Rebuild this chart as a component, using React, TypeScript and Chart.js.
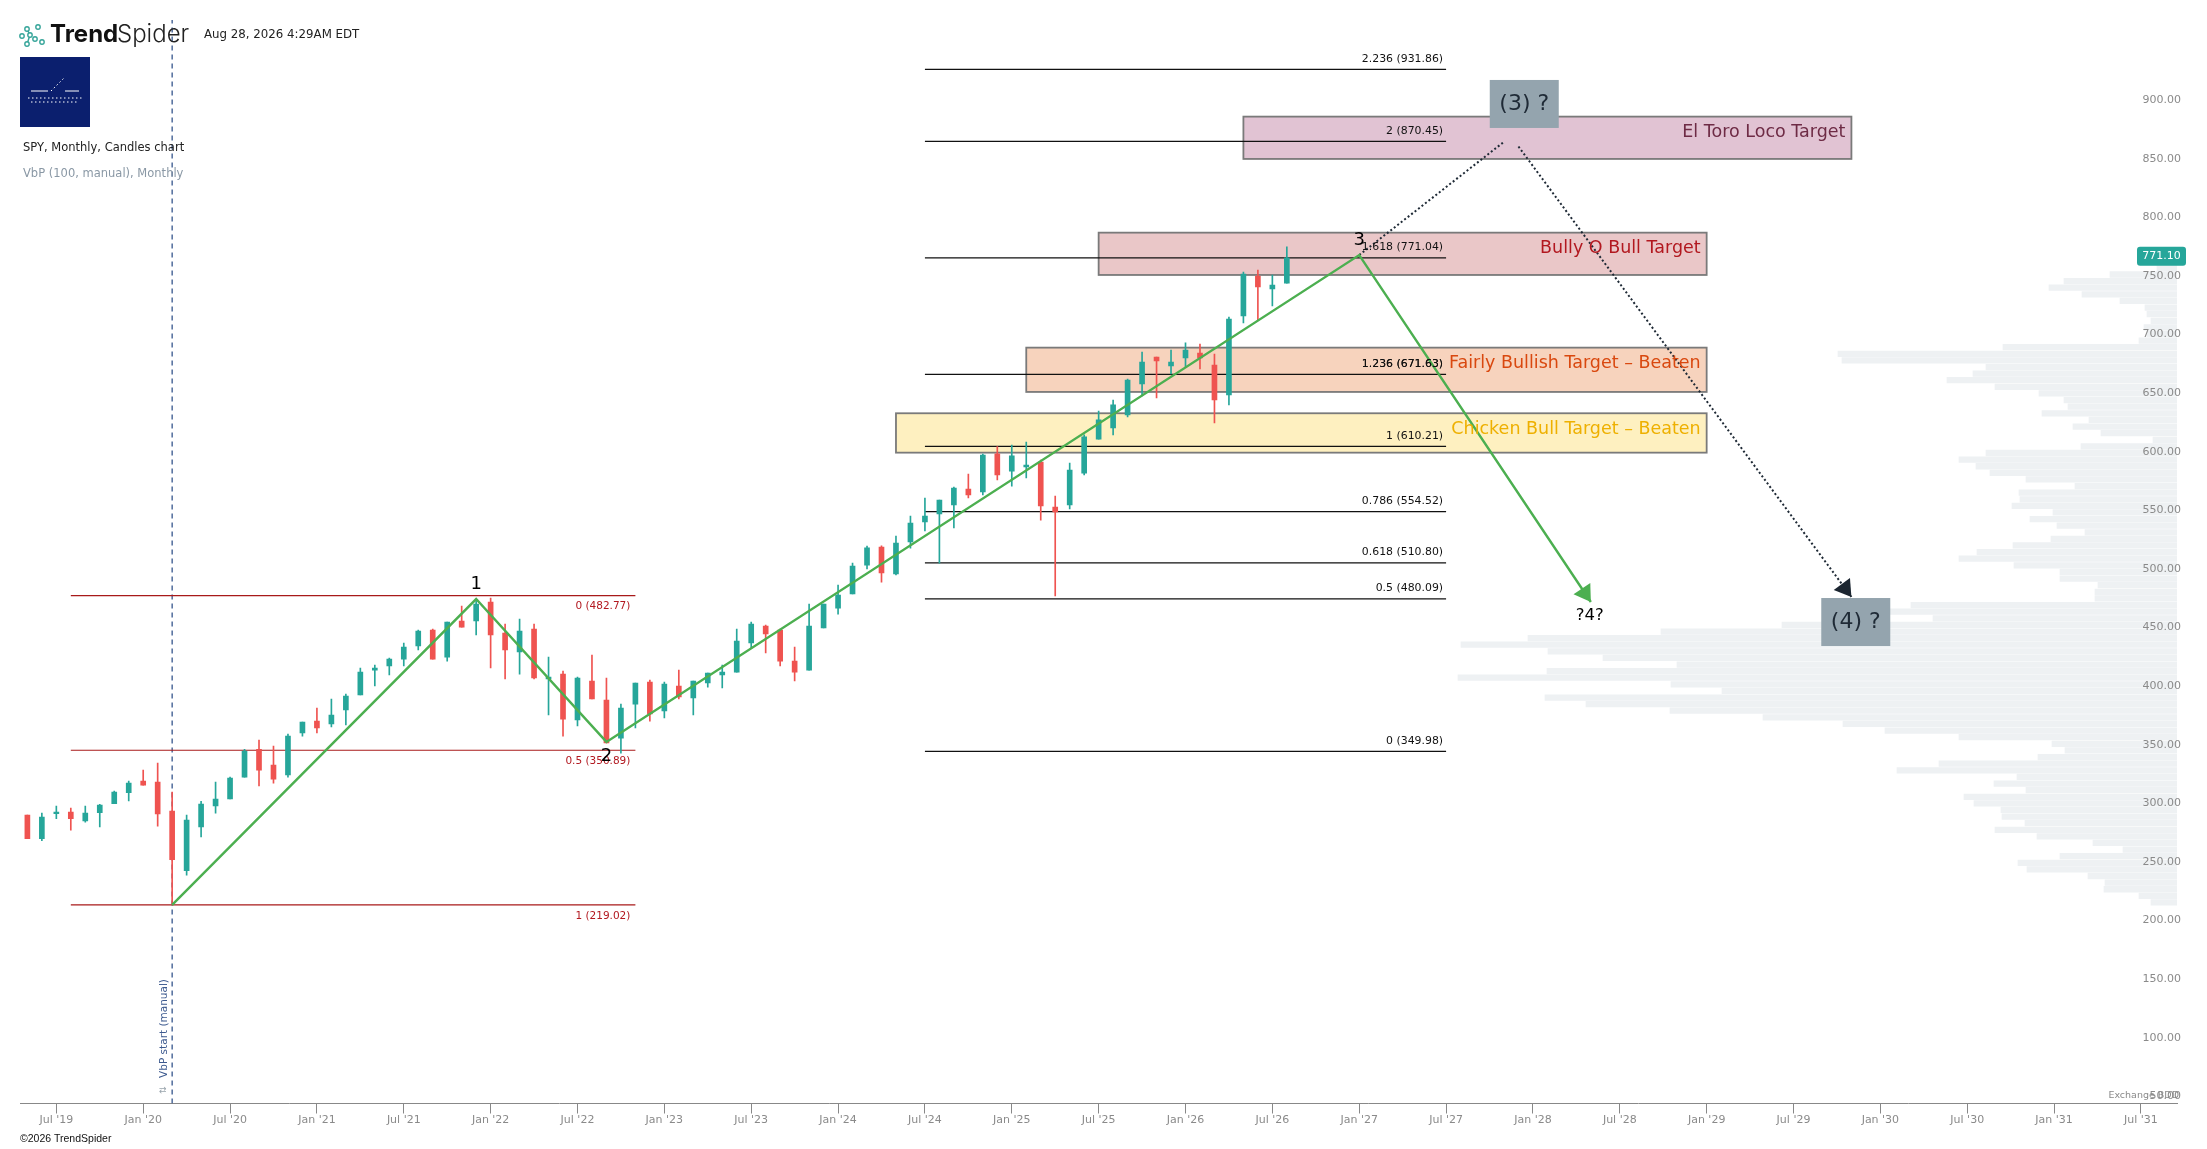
import React, { useEffect, useRef } from "react";
import { Chart, registerables } from "chart.js";

Chart.register(...registerables);

// Month index: 0 = Jan 2019
const firstCandleMonth = 4;
const opens = [295.6,275.4,296.8,298.2,290.5,297.6,305.3,314.7,324.6,323.8,299.0,248.1,285.4,303.3,309.3,328.0,351.7,338.3,329.8,365.6,375.8,373.3,385.2,398.0,419.3,422.8,428.7,439.8,453.5,430.4,461.2,461.2,477.4,450.9,434.7,454.3,411.7,415.9,376.7,409.9,393.7,361.3,390.3,409.1,384.4,405.7,395.5,408.3,415.1,417.6,442.4,456.9,453.5,427.0,419.3,455.2,472.2,484.2,508.9,524.3,501.3,528.6,545.6,552.5,560.1,573.8,571.2,603.9,589.1,592.6,596.8,558.4,560.1,587.4,616.4,625.8,636.9,663.4,686.4,678.7,685.6,689.8,679.6,654.0,721.4,755.5,744.4,749.5];
const closes = [275.4,293.9,298.2,292.5,297.3,304.2,315.3,322.9,321.2,296.5,257.5,291.4,305.0,309.3,327.2,350.2,334.0,326.3,363.0,375.0,369.9,381.0,397.2,417.6,421.1,428.7,439.0,452.6,428.7,460.3,456.0,475.7,449.2,436.4,452.6,412.5,413.4,377.5,412.5,394.6,357.1,386.9,408.3,381.8,407.4,396.3,409.9,416.8,417.6,444.1,458.6,450.1,427.0,417.6,456.9,475.7,483.3,508.1,523.7,502.1,527.7,544.8,550.7,564.4,574.6,568.7,602.8,585.7,602.0,594.3,559.3,554.2,590.0,618.2,632.7,645.5,666.8,682.1,683.0,682.1,692.4,685.6,649.7,718.8,757.2,746.1,747.8,771.1];
const highs = [295.6,297.3,303.3,301.6,303.3,304.7,316.1,324.6,334.0,340.0,315.3,295.6,307.3,323.8,328.0,351.7,359.6,354.5,364.7,375.0,386.9,394.6,398.9,421.1,423.6,429.6,442.4,453.5,454.3,460.3,474.0,479.9,480.8,458.6,462.9,458.6,430.4,418.5,413.4,432.1,412.5,390.3,408.3,410.8,409.1,419.3,409.9,416.8,423.6,454.3,460.3,457.7,454.3,439.0,475.7,475.7,491.9,510.6,525.0,525.2,533.7,550.7,566.1,564.4,575.5,586.6,603.6,609.9,611.3,613.9,598.5,567.8,596.0,619.9,640.3,649.7,667.6,690.7,686.4,692.4,698.4,697.5,689.0,720.5,758.9,760.6,756.4,780.3];
const lows = [275.4,273.7,292.5,282.8,289.6,285.4,305.3,307.6,321.2,286.2,219.4,244.4,276.9,297.3,309.3,328.0,320.4,322.9,328.0,363.0,365.6,370.7,372.4,398.0,405.7,415.1,422.8,436.4,428.7,427.0,456.0,449.2,421.1,411.7,415.9,411.7,381.0,363.0,371.6,394.6,357.1,348.5,369.9,375.8,378.4,394.6,381.0,404.8,404.0,417.6,438.1,433.9,422.8,410.0,419.3,455.2,467.1,484.2,505.5,494.4,500.4,523.4,538.0,510.6,540.5,566.1,568.7,581.5,576.3,583.2,547.3,482.5,556.7,585.7,616.4,619.9,635.2,653.1,651.4,671.9,677.9,676.2,630.1,645.5,715.4,718.0,729.9,749.5];

const xTickLabels = ["Jul '19","Jan '20","Jul '20","Jan '21","Jul '21","Jan '22","Jul '22","Jan '23","Jul '23","Jan '24","Jul '24","Jan '25","Jul '25","Jan '26","Jul '26","Jan '27","Jul '27","Jan '28","Jul '28","Jan '29","Jul '29","Jan '30","Jul '30","Jan '31","Jul '31"];
const yTickLabels = ["50.00","100.00","150.00","200.00","250.00","300.00","350.00","400.00","450.00","500.00","550.00","600.00","650.00","700.00","750.00","800.00","850.00","900.00"];

const vbpPrices = [221.0,226.6,232.3,237.9,243.6,249.2,254.8,260.5,266.1,271.8,277.4,283.0,288.7,294.3,300.0,305.6,311.2,316.9,322.5,328.2,333.8,339.4,345.1,350.7,356.4,362.0,367.6,373.3,378.9,384.6,390.2,395.8,401.5,407.1,412.8,418.4,424.0,429.7,435.3,441.0,446.6,452.2,457.9,463.5,469.2,474.8,480.4,486.1,491.7,497.4,503.0,508.6,514.3,519.9,525.6,531.2,536.8,542.5,548.1,553.8,559.4,565.0,570.7,576.3,582.0,587.6,593.2,598.9,604.5,610.2,615.8,621.4,627.1,632.7,638.4,644.0,649.6,655.3,660.9,666.6,672.2,677.8,683.5,689.1,694.8,700.4,706.0,711.7,717.3,723.0,728.6,734.2,739.9,745.5,751.2,756.8,762.4,768.1];
const vbpVolumes = [26,38,73,72,89,150,159,117,54,84,140,182,152,175,176,203,213,151,183,160,280,238,139,112,125,218,292,334,414,507,591,632,455,506,719,630,500,574,629,716,649,516,395,244,300,266,82,82,79,117,117,163,218,200,164,126,92,120,147,124,165,157,158,102,151,187,201,218,191,96,24,76,104,88,135,109,113,138,182,230,204,191,335,339,174,38,30,33,26,30,32,57,95,128,113,67,20,12];

const redFibRatios = ["0","0.5","1"];
const redFibPrices = [482.77,350.89,219.02];
const redFibMonths = [7,46];
const blackFibRatios = ["2.236","2","1.618","1.236","1","0.786","0.618","0.5","0"];
const blackFibPrices = [931.86,870.45,771.04,671.63,610.21,554.52,510.80,480.09,349.98];
const blackFibMonths = [66,102];

const waveMonths = [14,35,44,96,112];
const wavePrices = [219.02,479.9,358.0,773.4,477.4];
const waveNames = ["","1","2","3","?4?"];
const dottedUpMonths = [96,106];
const dottedUpPrices = [773.4,870.0];
const dottedDownMonths = [107,130];
const dottedDownPrices = [866.0,481.7];
const vbpStartMonth = 14;
const vbpLinePrices = [49.5,974];

const zoneNames = ["El Toro Loco Target","Bully O Bull Target","Fairly Bullish Target – Beaten","Chicken Bull Target – Beaten"];
const zoneStart = [88,78,73,64];
const zoneEnd = [130,120,120,120];
const zoneTop = [891.5,792.5,694.4,638.4];
const zoneBottom = [855.4,756.4,656.6,604.8];
const zoneFills = ["#e1c3d3","#eac7c8","#f7d3bd","#fef0c0"];
const zoneTexts = ["#6e2b45","#b2181f","#d9480f","#eeb000"];

const noteNames = ["(3) ?","(4) ?"];
const noteMonths = [107.4,130.3];
const notePrices = [902.3,460.3];

const UP = "#26a69a";
const DOWN = "#ef5350";
const FONT = "'DejaVu Sans', sans-serif";

function arrowHead(ctx: CanvasRenderingContext2D, x0: number, y0: number, x1: number, y1: number, size: number, color: string) {
  const a = Math.atan2(y1 - y0, x1 - x0);
  ctx.save();
  ctx.translate(x1, y1);
  ctx.rotate(a);
  ctx.fillStyle = color;
  ctx.beginPath();
  ctx.moveTo(0, 0);
  ctx.lineTo(-size * 1.15, -size * 0.72);
  ctx.lineTo(-size * 1.15, size * 0.72);
  ctx.closePath();
  ctx.fill();
  ctx.restore();
}

const overlay = {
  id: "overlay",
  beforeDatasetsDraw(chart: any) {
    const { ctx, scales } = chart;
    const X = scales.x, Y = scales.y;
    ctx.save();
    zoneNames.forEach((_, i) => {
      const l = X.getPixelForValue(zoneStart[i]);
      const r = X.getPixelForValue(zoneEnd[i]);
      const t = Y.getPixelForValue(zoneTop[i]);
      const b = Y.getPixelForValue(zoneBottom[i]);
      ctx.fillStyle = zoneFills[i];
      ctx.fillRect(l, t, r - l, b - t);
      ctx.strokeStyle = "#7a7a7a";
      ctx.lineWidth = 1.8;
      ctx.strokeRect(l, t, r - l, b - t);
    });
    ctx.restore();
  },
  afterDatasetsDraw(chart: any) {
    const { ctx, scales } = chart;
    const X = scales.x, Y = scales.y;
    ctx.save();
    ctx.textBaseline = "middle";

    // zone captions
    ctx.textAlign = "right";
    ctx.font = `17.5px ${FONT}`;
    zoneNames.forEach((name, i) => {
      ctx.fillStyle = zoneTexts[i];
      ctx.fillText(name, X.getPixelForValue(zoneEnd[i]) - 6, Y.getPixelForValue(zoneTop[i]) + 16);
    });

    // fib labels
    ctx.font = `10.5px ${FONT}`;
    ctx.fillStyle = "#b2181f";
    redFibRatios.forEach((r, i) => {
      ctx.fillText(`${r} (${redFibPrices[i].toFixed(2)})`, X.getPixelForValue(redFibMonths[1]) - 5, Y.getPixelForValue(redFibPrices[i]) + 11);
    });
    ctx.fillStyle = "#111";
    ctx.font = `10.9px ${FONT}`;
    blackFibRatios.forEach((r, i) => {
      const t = `${r} (${blackFibPrices[i].toFixed(2)})`;
      const px = X.getPixelForValue(blackFibMonths[1]) - 3;
      const py = Y.getPixelForValue(blackFibPrices[i]) - 10.5;
      ctx.fillText(t, px, py);
      if (r === "1.236") ctx.fillText(t, px, py);
    });

    // arrow heads
    arrowHead(ctx, X.getPixelForValue(waveMonths[3]), Y.getPixelForValue(wavePrices[3]), X.getPixelForValue(waveMonths[4]), Y.getPixelForValue(wavePrices[4]), 14, "#4caf50");
    arrowHead(ctx, X.getPixelForValue(dottedDownMonths[0]), Y.getPixelForValue(dottedDownPrices[0]), X.getPixelForValue(dottedDownMonths[1]), Y.getPixelForValue(dottedDownPrices[1]), 14, "#1b2530");

    // wave labels
    ctx.textAlign = "center";
    ctx.fillStyle = "#000";
    waveNames.forEach((n, i) => {
      if (!n) return;
      const down = i === 2 || i === 4;
      ctx.font = i === 4 ? `16.5px ${FONT}` : `18px ${FONT}`;
      ctx.fillText(n, X.getPixelForValue(waveMonths[i]) - (i === 4 ? 1 : 0), Y.getPixelForValue(wavePrices[i]) + (down ? 14 : -15));
    });

    // note boxes
    noteNames.forEach((n, i) => {
      const cx = X.getPixelForValue(noteMonths[i]);
      const cy = Y.getPixelForValue(notePrices[i]);
      ctx.fillStyle = "#94a4ae";
      ctx.fillRect(cx - 34.5, cy - 24, 69, 48);
      ctx.fillStyle = "#1f2a36";
      ctx.font = `22px ${FONT}`;
      ctx.fillText(n, cx, cy);
    });

    // VbP start caption
    ctx.save();
    ctx.translate(X.getPixelForValue(vbpStartMonth) - 8, Y.getPixelForValue(50) - 6);
    ctx.rotate(-Math.PI / 2);
    ctx.textAlign = "left";
    ctx.fillStyle = "#9aa5ad";
    ctx.font = `9px ${FONT}`;
    ctx.fillText("⇅", 3, 0);
    ctx.fillStyle = "#3d5a8f";
    ctx.font = `10.5px ${FONT}`;
    ctx.fillText("VbP start (manual)", 19, 0);
    ctx.restore();
    ctx.restore();
  },
  afterDraw(chart: any) {
    const { ctx, scales } = chart;
    const Y = scales.y;
    ctx.save();
    ctx.textBaseline = "middle";

    // last price tag
    const last = closes[closes.length - 1];
    const ty = Y.getPixelForValue(last) - 1.5;
    ctx.fillStyle = UP;
    ctx.beginPath();
    ctx.roundRect(2137, ty - 9.5, 49, 19, 3);
    ctx.fill();
    ctx.fillStyle = "#fff";
    ctx.textAlign = "center";
    ctx.font = `11px ${FONT}`;
    ctx.fillText(last.toFixed(2), 2161.5, ty);

    // exchange note
    ctx.textAlign = "right";
    ctx.fillStyle = "#8a8a8a";
    ctx.font = `9.5px ${FONT}`;
    ctx.fillText("Exchange BDD", 2179, 1096);

    // header
    ctx.textAlign = "left";
    ctx.fillStyle = "#111";
    ctx.font = "700 24px Inter, sans-serif";
    ctx.fillText("Trend", 50, 35);
    ctx.font = "300 24px Inter, sans-serif";
    ctx.fillStyle = "#222";
    ctx.fillText("Spider", 117, 35);
    ctx.font = `11.8px ${FONT}`;
    ctx.fillStyle = "#222";
    ctx.fillText("Aug 28, 2026 4:29AM EDT", 204, 35);
    ctx.font = `11.5px ${FONT}`;
    ctx.fillText("SPY, Monthly, Candles chart", 23, 148);
    ctx.fillStyle = "#8a98a5";
    ctx.fillText("VbP (100, manual), Monthly", 23, 174);
    ctx.fillStyle = "#111";
    ctx.font = "10.5px 'Liberation Sans', sans-serif";
    ctx.fillText("©2026 TrendSpider", 20, 1139);

    // logo mark
    const dots = [[27,29],[22,36],[38,27],[30,35],[35,39],[42,42],[27,44]];
    ctx.strokeStyle = "#37a59a";
    ctx.lineWidth = 1.4;
    ctx.beginPath();
    ctx.moveTo(27, 29); ctx.lineTo(30, 35); ctx.lineTo(27, 44);
    ctx.stroke();
    dots.forEach(([x, y]) => {
      ctx.beginPath();
      ctx.arc(x, y, 2.2, 0, Math.PI * 2);
      ctx.fillStyle = "#fff";
      ctx.fill();
      ctx.stroke();
    });

    // avatar square
    ctx.fillStyle = "#0b1f6e";
    ctx.fillRect(20, 57, 70, 70);
    ctx.strokeStyle = "#fff";
    ctx.lineWidth = 1;
    ctx.beginPath();
    ctx.moveTo(31, 91); ctx.lineTo(48, 91);
    ctx.moveTo(65, 91); ctx.lineTo(79, 91);
    ctx.stroke();
    ctx.setLineDash([1.5, 2.5]);
    ctx.beginPath();
    ctx.moveTo(51, 91); ctx.lineTo(64, 78);
    ctx.moveTo(28, 98); ctx.lineTo(82, 98);
    ctx.moveTo(31, 102); ctx.lineTo(78, 102);
    ctx.stroke();
    ctx.restore();
  },
};

const hLine = (months: number[], price: number, color: string, order: number) => ({
  type: "line" as const,
  data: months.map((m) => ({ x: m, y: price })),
  borderColor: color,
  borderWidth: 1.2,
  pointRadius: 0,
  order,
  xAxisID: "x",
  yAxisID: "y",
});

export default function App() {
  const ref = useRef<HTMLCanvasElement>(null);
  useEffect(() => {
    document.body.style.margin = "0";
    const months = opens.map((_, i) => firstCandleMonth + i);
    const colors = opens.map((o, i) => (closes[i] >= o ? UP : DOWN));
    const chart = new Chart(ref.current as HTMLCanvasElement, {
      type: "bar",
      data: {
        datasets: [
          {
            type: "line",
            data: waveMonths.map((m, i) => ({ x: m, y: wavePrices[i] })),
            borderColor: "#4caf50",
            borderWidth: 2.4,
            pointRadius: 0,
            order: 1,
            xAxisID: "x",
            yAxisID: "y",
          },
          {
            type: "line",
            data: dottedUpMonths.map((m, i) => ({ x: m, y: dottedUpPrices[i] })),
            borderColor: "#1f2a36",
            borderWidth: 2,
            borderDash: [2, 2.4],
            pointRadius: 0,
            order: 2,
            xAxisID: "x",
            yAxisID: "y",
          },
          {
            type: "line",
            data: dottedDownMonths.map((m, i) => ({ x: m, y: dottedDownPrices[i] })),
            borderColor: "#1f2a36",
            borderWidth: 2,
            borderDash: [2, 2.4],
            pointRadius: 0,
            order: 2,
            xAxisID: "x",
            yAxisID: "y",
          },
          {
            type: "bar",
            data: months.map((m, i) => ({ x: m, y: [opens[i], closes[i]] })),
            backgroundColor: colors,
            barThickness: 5,
            grouped: false,
            borderWidth: 0,
            order: 3,
            xAxisID: "x",
            yAxisID: "y",
          },
          {
            type: "bar",
            data: months.map((m, i) => ({ x: m, y: [lows[i], highs[i]] })),
            backgroundColor: colors,
            barThickness: 1,
            grouped: false,
            borderWidth: 0,
            order: 4,
            xAxisID: "x",
            yAxisID: "y",
          },
          ...redFibPrices.map((p) => hLine(redFibMonths, p, "#a81a1a", 5)),
          ...blackFibPrices.map((p) => hLine(blackFibMonths, p, "#111111", 5)),
          {
            type: "line",
            data: vbpLinePrices.map((p) => ({ x: vbpStartMonth, y: p })),
            borderColor: "#34558c",
            borderWidth: 1.3,
            borderDash: [5, 4],
            pointRadius: 0,
            order: 6,
            xAxisID: "x",
            yAxisID: "y",
          },
          {
            type: "bar",
            indexAxis: "y",
            data: vbpPrices.map((p, i) => ({ x: vbpVolumes[i], y: p })),
            backgroundColor: "#eef1f3",
            barThickness: 5.6,
            grouped: false,
            borderWidth: 0,
            order: 7,
            xAxisID: "xv",
            yAxisID: "y",
          },
        ] as any,
      },
      options: {
        responsive: false,
        animation: false,
        devicePixelRatio: 1,
        layout: { padding: { left: 20, right: 0, top: 0, bottom: 0 } },
        plugins: { legend: { display: false }, tooltip: { enabled: false }, title: { display: false } },
        events: [],
        scales: {
          x: {
            type: "linear",
            offset: false,
            min: 3.49,
            max: 152.49,
            grid: { offset: false, drawOnChartArea: false, drawTicks: true, tickLength: 10, color: "#888888" },
            border: { display: true, color: "#888888", width: 1 },
            ticks: {
              stepSize: 6,
              includeBounds: false,
              autoSkip: false,
              maxRotation: 0,
              padding: 0,
              color: "#8a8a8a",
              font: { family: "'DejaVu Sans'", size: 11 },
              callback: (v: any) => xTickLabels[(Number(v) - 6) / 6] ?? "",
            },
            afterFit: (s: any) => {
              s.height = 45.5;
              s.paddingLeft = 0;
              s.paddingRight = 0;
            },
          },
          xv: {
            type: "linear",
            axis: "x",
            display: false,
            offset: false,
            reverse: true,
            min: 0,
            max: 2157,
            grid: { display: false },
          },
          y: {
            type: "linear",
            position: "right",
            offset: false,
            min: 49.5,
            max: 991,
            grid: { display: false, offset: false, drawTicks: false },
            border: { display: false },
            ticks: {
              stepSize: 50,
              includeBounds: false,
              autoSkip: false,
              mirror: true,
              padding: 4,
              z: 1,
              color: "#8a8a8a",
              font: { family: "'DejaVu Sans'", size: 11, lineHeight: 1.2 },
              callback: (v: any) => {
                const t = Number(v).toFixed(2);
                return yTickLabels.includes(t) ? [t, ""] : "";
              },
            },
            afterFit: (s: any) => {
              s.width = 30;
              s.paddingTop = 0;
              s.paddingBottom = 0;
            },
          },
        },
      } as any,
      plugins: [overlay],
    });
    return () => chart.destroy();
  }, []);
  return <canvas ref={ref} width={2207} height={1149} style={{ display: "block", width: 2207, height: 1149 }} />;
}
